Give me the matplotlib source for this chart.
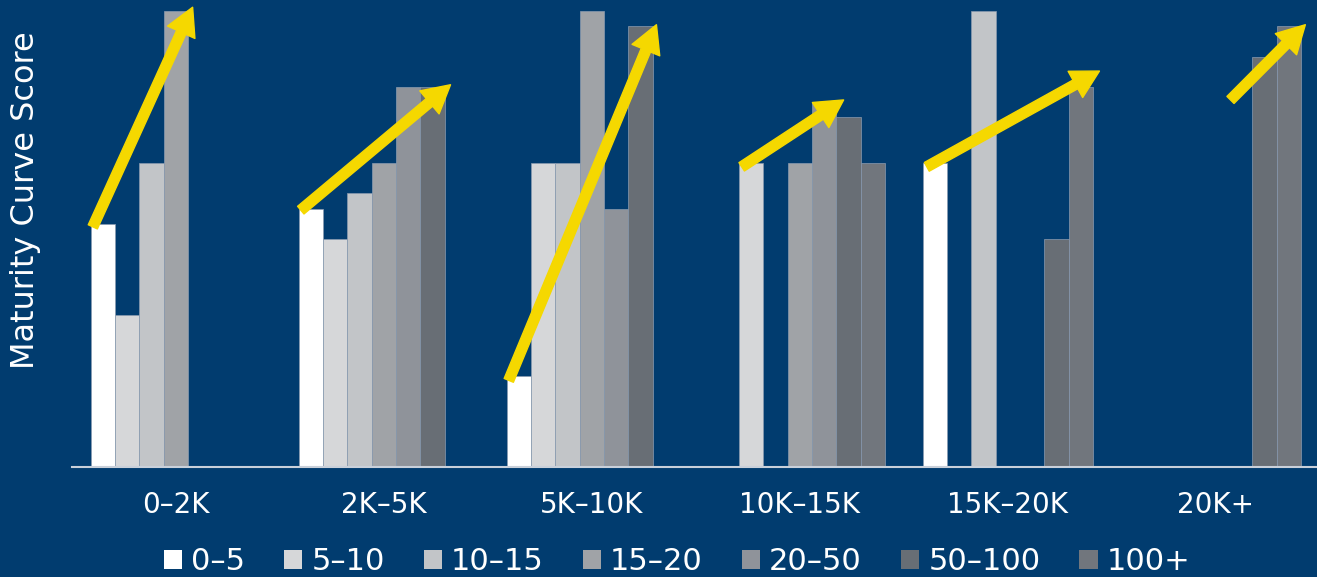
import numpy as np
import matplotlib
matplotlib.use('Agg')
import matplotlib.pyplot as plt
from matplotlib.patches import FancyArrowPatch

# données
categories = ['0–2K', '2K–5K', '5K–10K', '10K–15K', '15K–20K', '20K+']
series = ['0–5', '5–10', '10–15', '15–20', '20–50', '50–100', '100+']
scores = {
    '0–5':    [3.2, 3.4, 1.2, 0.0, 4.0, 0.0],
    '5–10':   [2.0, 3.0, 4.0, 4.0, 0.0, 0.0],
    '10–15':  [4.0, 3.6, 4.0, 0.0, 6.0, 0.0],
    '15–20':  [6.0, 4.0, 6.0, 4.0, 0.0, 0.0],
    '20–50':  [0.0, 5.0, 3.4, 4.8, 0.0, 0.0],
    '50–100': [0.0, 5.0, 5.8, 4.6, 3.0, 5.4],
    '100+':   [0.0, 0.0, 0.0, 4.0, 5.0, 5.8],
}
# flèches de tendance (x début, y début, x fin, y fin)
trend_arrows = [
    (-0.40, 3.16, 0.08, 6.05),
    (0.60, 3.38, 1.32, 5.03),
    (1.60, 1.14, 2.31, 5.82),
    (2.72, 3.95, 3.21, 4.83),
    (3.61, 3.95, 4.44, 5.21),
    (5.07, 4.83, 5.43, 5.82),
]

bg = '#013c6f'
colors = ['#ffffff', '#d6d7d9', '#c2c5c8', '#a0a3a7', '#8f939a', '#686e75', '#71767d']

fig = plt.figure(figsize=(13.17, 5.77), dpi=100, facecolor=bg)
ax = fig.add_axes([72/1317, 110/577, 1 - 72/1317, 467/577])
ax.set_facecolor(bg)

x = np.arange(len(categories))
w = 0.117
for j, s in enumerate(series):
    ax.bar(x + (j - 3)*w, scores[s], width=w, color=colors[j],
           edgecolor='#8a9bb0', linewidth=0.5, label=s, zorder=2)

for (x0, y0, x1, y1) in trend_arrows:
    arr = FancyArrowPatch((x0, y0), (x1, y1),
                          arrowstyle='simple,head_length=1.1,head_width=1.2,tail_width=0.4',
                          mutation_scale=18, color='#f5d800', shrinkA=0, shrinkB=0,
                          zorder=4, clip_on=False)
    ax.add_patch(arr)

ax.set_xlim(-0.5, 5.486)
ax.set_ylim(0, 6.145)
ax.set_xticks(x)
ax.set_xticklabels(categories, color='white', fontsize=20)
ax.tick_params(axis='x', length=0, pad=17)
ax.set_yticks([])
for sp in ['top', 'right', 'left']:
    ax.spines[sp].set_visible(False)
ax.spines['bottom'].set_color('#c9d0da')
ax.spines['bottom'].set_linewidth(1.5)
ax.spines['bottom'].set_zorder(3)

fig.text(26/1317, 1 - 200/577, 'Maturity Curve Score', rotation=90,
         ha='center', va='center', color='white', fontsize=23)

leg = fig.legend(loc='center', bbox_to_anchor=(677/1317, 1 - 562/577),
                 ncol=7, frameon=False, handlelength=0.6, handleheight=0.6,
                 handletextpad=0.3, columnspacing=1.27, prop=dict(size=22))
for t in leg.get_texts():
    t.set_color('white')
for h in leg.legend_handles:
    h.set_linewidth(0)

fig.savefig('out.png', dpi=100, facecolor=bg)
